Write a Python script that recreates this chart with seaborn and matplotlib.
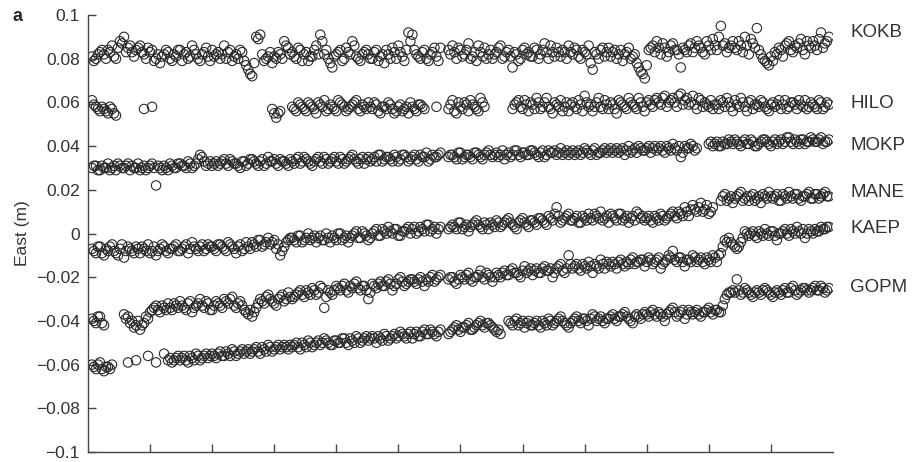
import matplotlib
matplotlib.use("Agg")
import matplotlib.pyplot as plt
import seaborn as sns
import numpy as np
import pandas as pd

# East component for each GPS station, in mm (None = no solution).
# First list: solutions on the main epochs; *_mid: solutions half an epoch later.
kokb = [81, 80, 83, 82, 84, 86, 80, 88, 90, 85,
        83, 84, 86, 82, 85, 84, 80, 78, 82, 83,
        79, 81, 84, 82, 80, 86, 82, 79, 83, 81,
        84, 82, 80, 86, 83, 79, 82, 84, 79, 75,
        72, 90, 91, 79, 81, 78, 80, 82, 88, 85,
        83, 80, 84, 82, 79, 81, 86, 91, 82, 80,
        76, 82, 84, 80, 83, 88, 81, 79, 83, 82,
        80, 84, 81, 78, 82, 85, 80, 83, 79, 92,
        91, 82, 80, 84, 79, 83, 81, 85, None, 84,
        86, 80, 84, 82, 87, 81, 79, 83, 85, 82,
        80, 83, 86, 81, 84, 76, 82, 80, 85, 83,
        81, 84, 82, 87, 80, 83, 85, 81, 83, 86,
        82, 84, 80, 83, 86, 75, 82, 84, 81, 85,
        83, 80, 84, 82, 85, 81, 78, 74, 71, 84,
        86, 88, 82, 85, 83, 87, 84, 76, 84, 86,
        83, 88, 85, 82, 86, 89, 84, 95, 87, 85,
        88, 84, 86, 90, 82, 87, 94, 82, 79, 77,
        79, 82, 84, 86, 88, 83, 85, 89, 82, 86,
        88, 84, 92, 87, 90]
kokb_mid = [79, 82, 84, 80, 83, 81, 85, 87, 83, 86,
            81, 85, 83, 80, 83, 79, 82, 81, 84, 80,
            82, 84, 79, 83, 81, 84, 80, 82, 85, 79,
            81, 83, 82, 80, 84, 81, 80, 83, 77, 73,
            78, 89, 82, 80, 83, 81, 83, 80, 86, 82,
            81, 85, 79, 83, 81, 84, 82, 88, 84, 78,
            81, 83, 79, 85, 82, 86, 80, 82, 84, 80,
            83, 79, 82, 84, 80, 83, 86, 81, 84, 88,
            84, 81, 83, 80, 82, 85, 79, None, None, 82,
            83, 85, 81, 84, 80, 83, 86, 81, 80, 84,
            82, 85, 80, 83, 81, 83, 79, 84, 82, 81,
            85, 80, 84, 83, 86, 81, 83, 84, 80, 83,
            85, 81, 84, 82, 78, 83, 80, 85, 83, 81,
            84, 82, 79, 83, 80, 82, 76, 73, 77, 85,
            83, 85, 87, 81, 86, 84, 82, 85, 83, 87,
            85, 86, 83, 88, 84, 86, 90, 86, 83, 86,
            85, 88, 83, 86, 89, 85, 84, 80, 78, 81,
            83, 85, 81, 87, 84, 86, 87, 84, 88, 85,
            86, 89, 85, 88]

hilo = [61, 58, 56, 57, 55, 57, 54, None, None, None,
        None, None, None, 57, None, 58, None, None, None, None,
        None, None, None, None, None, None, None, None, None, None,
        None, None, None, None, None, None, None, None, None, None,
        None, None, None, None, None, 57, 53, 56, None, None,
        58, 56, 59, 57, 60, 58, 55, 59, 61, 57,
        58, 56, 60, 58, 57, 59, 61, 56, 58, 60,
        57, 59, 55, 58, 60, 57, 56, 59, 57, 55,
        58, 56, 59, 57, None, None, 58, None, None, 57,
        61, 55, 58, 60, 56, 59, 57, 62, 58, None,
        None, None, None, None, None, 57, 60, 58, 61, 56,
        59, 62, 57, 60, 58, 55, 59, 61, 58, 56,
        60, 57, 59, 63, 58, 56, 60, 58, 61, 57,
        59, 55, 60, 58, 62, 59, 57, 60, 56, 61,
        58, 62, 59, 63, 60, 62, 58, 64, 61, 59,
        63, 57, 61, 60, 58, 57, 59, 61, 58, 60,
        56, 59, 62, 58, 60, 57, 59, 61, 58, 56,
        60, 59, 57, 61, 58, 60, 57, 59, 61, 58,
        59, 57, 60, 58, 59]
hilo_mid = [59, 57, 58, 56, 58, 55, None, None, None, None,
            None, None, None, None, None, None, None, None, None, None,
            None, None, None, None, None, None, None, None, None, None,
            None, None, None, None, None, None, None, None, None, None,
            None, None, None, None, None, 55, 55, None, None, None,
            57, 60, 58, 56, 59, 57, 60, 58, 56, 59,
            57, 61, 59, 56, 58, 60, 57, 59, 57, 58,
            60, 56, 58, 57, 59, 55, 58, 56, 58, 60,
            57, 59, 58, None, None, None, None, None, None, 59,
            56, 60, 57, 59, 61, 58, 56, 60, None, None,
            None, None, None, None, None, 59, 61, 57, 59, 60,
            57, 60, 58, 62, 57, 60, 58, 56, 60, 59,
            58, 61, 56, 60, 59, 58, 62, 57, 59, 60,
            57, 61, 59, 57, 60, 58, 62, 58, 60, 59,
            61, 60, 62, 58, 61, 60, 63, 59, 62, 60,
            59, 62, 58, 59, 61, 59, 57, 60, 62, 58,
            61, 58, 60, 56, 61, 59, 58, 60, 57, 59,
            58, 61, 59, 57, 60, 59, 61, 58, 57, 60,
            58, 61, 57, 60]

mokp = [30, 31, 29, 30, 32, 30, 29, 31, 30, 32,
        31, 30, 29, 31, 30, 32, 22, 30, 31, 29,
        31, 30, 32, 31, 33, 30, 32, 36, 33, 32,
        31, 33, 32, 34, 31, 33, 32, 30, 33, 32,
        34, 32, 33, 31, 35, 33, 32, 34, 33, 31,
        33, 34, 32, 35, 33, 31, 34, 33, 35, 32,
        34, 33, 35, 32, 34, 36, 33, 34, 32, 35,
        34, 33, 36, 34, 35, 33, 35, 34, 36, 33,
        35, 34, 36, 35, 33, 36, 35, 37, None, 35,
        36, 34, 37, 35, 36, 34, 37, 35, 36, 38,
        35, 37, 36, 34, 37, 36, 38, 35, 37, 36,
        38, 36, 37, 35, 38, 37, 36, 39, 37, 36,
        38, 37, 36, 39, 37, 38, 36, 37, 39, 38,
        37, 39, 38, 36, 40, 38, 37, 39, 38, 40,
        39, 38, 40, 37, 39, 41, 38, 35, 40, 39,
        40, 39, None, None, 41, 40, 42, 40, 41, 43,
        41, 42, 40, 43, 41, 42, 40, 42, 43, 41,
        42, 41, 43, 42, 44, 41, 42, 43, 41, 42,
        43, 42, 44, 42, 43]
mokp_mid = [31, 29, 31, 30, 29, 31, 32, 30, 31, 29,
            30, 32, 30, 29, 31, 30, 31, 29, 30, 32,
            30, 32, 31, 30, 32, 31, 34, 35, 31, 33,
            32, 31, 33, 32, 34, 32, 31, 33, 31, 34,
            33, 31, 34, 32, 33, 34, 31, 33, 32, 34,
            32, 35, 33, 34, 32, 33, 35, 32, 34, 33,
            35, 32, 34, 33, 35, 34, 32, 35, 34, 33,
            35, 36, 33, 35, 34, 36, 33, 36, 35, 34,
            36, 33, 35, 37, 34, 35, 36, None, None, 36,
            35, 37, 34, 36, 35, 37, 36, 34, 37, 36,
            36, 35, 38, 36, 35, 38, 36, 37, 36, 38,
            37, 35, 38, 36, 37, 38, 37, 36, 38, 37,
            36, 38, 37, 38, 36, 39, 37, 38, 37, 39,
            38, 37, 39, 38, 37, 39, 40, 38, 39, 37,
            40, 39, 38, 40, 38, 39, 40, 37, 39, 41,
            38, None, None, None, 42, 41, 40, 42, 41, 42,
            43, 41, 42, 41, 43, 40, 41, 43, 42, 40,
            43, 42, 41, 44, 42, 43, 41, 43, 42, 44,
            42, 43, 41, 42]

mane = [-7, -9, -6, -10, -8, -5, -9, -7, -11, -6,
        -8, -6, -9, -7, -5, -8, -10, -7, -6, -9,
        -7, -5, -8, -6, -9, -4, -7, -6, -8, -5,
        -6, -8, -5, -7, -4, -6, -9, -5, -7, -6,
        -4, -6, -3, -5, -2, -4, -7, -10, -6, -3,
        -2, -4, -1, -3, 0, -2, -4, -1, -3, -2,
        -1, -3, 0, -2, -4, -1, 1, -2, 0, -3,
        0, 2, -1, 1, 3, 0, 2, -1, 1, 3,
        2, 0, 3, 1, 4, 2, 0, 3, None, 2,
        4, 2, 5, 3, 1, 4, 6, 3, 5, 2,
        4, 6, 3, 5, 7, 4, 2, 6, 5, 3,
        6, 4, 7, 5, 8, 6, 12, 5, 7, 9,
        6, 8, 5, 7, 9, 6, 8, 10, 7, 5,
        8, 6, 9, 7, 5, 8, 10, 7, 6, 8,
        5, 7, 9, 6, 8, 10, 7, 9, 12, 8,
        13, 10, 14, 11, 9, 12, None, 15, 18, 16,
        14, 17, 19, 16, 15, 18, 16, 14, 17, 19,
        16, 18, 15, 17, 19, 16, 18, 15, 17, 19,
        16, 18, 17, 19, 17]
mane_mid = [-8, -6, -9, -7, -6, -8, -10, -5, -8, -7,
            -9, -7, -6, -8, -9, -6, -8, -5, -8, -7,
            -6, -8, -7, -5, -7, -6, -8, -5, -7, -6,
            -7, -5, -6, -8, -5, -7, -6, -8, -4, -7,
            -5, -3, -6, -4, -5, -3, -5, -8, -4, -2,
            -3, -1, -4, -2, -3, -1, -2, -3, 0, -4,
            -2, 0, -3, -1, -2, 0, -2, 1, -1, -2,
            1, -1, 2, 0, 1, 2, -1, 1, 2, 0,
            3, 1, 2, 4, 1, 3, 2, None, None, 3,
            3, 5, 2, 4, 3, 5, 4, 2, 4, 5,
            3, 5, 4, 6, 5, 3, 5, 7, 4, 6,
            5, 7, 6, 4, 7, 9, 8, 6, 8, 6,
            7, 5, 8, 6, 7, 9, 7, 6, 8, 9,
            7, 9, 6, 8, 7, 6, 9, 8, 7, 6,
            8, 6, 8, 7, 9, 8, 10, 8, 10, 11,
            11, 12, 10, 13, 10, None, None, 17, 15, 17,
            16, 18, 15, 17, 17, 15, 17, 18, 16, 17,
            17, 15, 18, 16, 17, 18, 16, 17, 18, 16,
            18, 16, 18, 17]

kaep = [-39, -41, -38, -42, None, None, None, None, -37, -38,
        -40, -42, -44, -41, -39, -35, -33, -36, -34, -32,
        -35, -33, -31, -34, -32, -36, -33, -30, -34, -32,
        -35, -31, -33, -30, -32, -29, -34, -31, -35, -37,
        -38, -34, -30, -32, -28, -31, -33, -29, -31, -27,
        -30, -28, -26, -29, -27, -25, -28, -24, -34, -26,
        -28, -24, -26, -23, -27, -25, -22, -26, -24, -30,
        -23, -25, -22, -24, -21, -26, -23, -20, -24, -22,
        -21, -23, -20, -24, -22, -19, -21, -19, None, -21,
        -20, -23, -19, -21, -18, -22, -20, -17, -21, -19,
        -22, -18, -20, -17, -19, -16, -18, -20, -15, -17,
        -19, -16, -18, -15, -17, -20, -16, -14, -18, -10,
        -16, -14, -17, -15, -13, -18, -15, -12, -16, -14,
        -13, -16, -12, -15, -14, -11, -13, -12, -15, -11,
        -14, -12, -16, -13, -10, -8, -13, -11, -15, -12,
        -10, -13, -11, -14, -12, -10, -13, -9, -3, -2,
        -5, -7, -4, 1, -1, 1, -2, 0, 2, -1,
        1, -3, 0, 2, -1, 1, 3, 0, -2, 2,
        0, 1, 3, 2, 3]
kaep_mid = [-40, -38, -41, None, None, None, None, None, -39, -41,
            -43, -40, -42, -38, -36, -34, -35, -33, -35, -34,
            -32, -34, -33, -35, -31, -34, -32, -33, -31, -35,
            -33, -32, -34, -31, -30, -33, -32, -33, -36, -35,
            -36, -32, -31, -29, -30, -32, -30, -28, -30, -29,
            -29, -27, -28, -26, -28, -26, -27, -25, -29, -27,
            -26, -25, -24, -26, -24, -23, -25, -24, -26, -27,
            -24, -23, -24, -22, -23, -24, -21, -22, -23, -21,
            -22, -21, -22, -21, -20, -22, -20, None, None, -20,
            -22, -21, -20, -19, -21, -20, -19, -20, -18, -20,
            -20, -19, -18, -19, -17, -18, -19, -17, -18, -16,
            -17, -18, -16, -17, -16, -18, -15, -17, -16, -14,
            -15, -16, -14, -16, -15, -14, -16, -14, -13, -15,
            -14, -13, -14, -13, -12, -14, -13, -12, -13, -12,
            -13, -11, -14, -12, -11, -12, -11, -13, -12, -13,
            -11, -12, -13, -11, -13, -11, -10, -6, -4, -4,
            -6, -6, -2, 0, 0, -1, 1, -1, 0, 1,
            -1, 0, 1, 0, 2, 0, 1, 2, 0, 1,
            2, 1, 2, 3]

gopm = [-60, -62, -59, -63, -61, -60, None, None, None, -59,
        None, -58, None, None, -56, None, -59, None, -55, -58,
        -59, -57, -58, -56, -59, -57, -55, -58, -56, -57,
        -55, -57, -54, -56, -55, -53, -56, -54, -55, -53,
        -54, -52, -55, -53, -51, -54, -52, -53, -51, -53,
        -52, -50, -53, -51, -49, -52, -50, -51, -48, -50,
        -51, -49, -50, -48, -51, -49, -47, -50, -48, -49,
        -47, -50, -48, -46, -49, -47, -48, -45, -47, -46,
        -48, -45, -47, -44, -46, -45, -47, -44, None, -46,
        -44, -42, -45, -43, -41, -44, -42, -40, -43, -41,
        -43, -45, -46, None, -40, -42, -39, -41, -43, -40,
        -42, -40, -43, -41, -39, -42, -40, -38, -41, -43,
        -40, -38, -41, -39, -42, -37, -40, -38, -41, -39,
        -37, -40, -38, -36, -39, -41, -37, -39, -36, -38,
        -35, -38, -37, -40, -36, -34, -38, -36, -39, -35,
        -37, -35, -38, -36, -34, -37, -35, -36, -30, -27,
        -26, -21, -28, -25, -27, -29, -26, -28, -25, -27,
        -29, -26, -28, -25, -27, -24, -28, -26, -25, -27,
        -25, -26, -24, -27, -25]
gopm_mid = [-61, -60, -62, -61, -62, None, None, None, None, None,
            None, None, None, None, None, None, None, None, None, -57,
            -58, -56, -57, -58, -56, -58, -56, -57, -55, -56,
            -56, -55, -56, -54, -56, -54, -55, -53, -54, -55,
            -53, -54, -52, -54, -52, -53, -51, -52, -52, -51,
            -51, -52, -50, -52, -50, -51, -49, -50, -49, -51,
            -49, -50, -48, -50, -48, -50, -48, -49, -47, -48,
            -48, -47, -49, -47, -48, -46, -47, -46, -48, -45,
            -46, -47, -45, -46, -44, -46, -45, None, None, -45,
            -43, -44, -43, -42, -44, -43, -41, -42, -41, -42,
            -44, -44, None, None, -41, -40, -42, -40, -41, -42,
            -41, -42, -40, -42, -40, -41, -39, -40, -42, -41,
            -39, -40, -39, -40, -39, -38, -39, -40, -39, -38,
            -39, -38, -37, -38, -40, -38, -38, -37, -37, -36,
            -37, -36, -38, -37, -35, -36, -37, -35, -37, -36,
            -36, -37, -36, -35, -36, -35, -36, -33, -28, -27,
            -27, -26, -27, -26, -28, -27, -27, -26, -26, -28,
            -27, -27, -26, -27, -25, -26, -27, -25, -26, -26,
            -24, -26, -25, -26]

stations = ['KOKB', 'HILO', 'MOKP', 'MANE', 'KAEP', 'GOPM']
series = [kokb, hilo, mokp, mane, kaep, gopm]
series_mid = [kokb_mid, hilo_mid, mokp_mid, mane_mid, kaep_mid, gopm_mid]

ytick_vals = [-0.1, -0.08, -0.06, -0.04, -0.02, 0, 0.02, 0.04, 0.06, 0.08, 0.1]
ytick_labels = ['\u22120.1', '\u22120.08', '\u22120.06', '\u22120.04', '\u22120.02', '0',
                '0.02', '0.04', '0.06', '0.08', '0.1']

# Building one long dataframe (epoch unit = one x tick)
frames = []
for name, vals, mids in zip(stations, series, series_mid):
    assert len(vals) == 185, (name, len(vals))
    assert len(mids) == 184, (name, len(mids))
    frames.append(pd.DataFrame({'epoch': np.arange(1, 186) / 15.5,
                                'east': np.array(vals, dtype=float) / 1000,
                                'station': name}))
    frames.append(pd.DataFrame({'epoch': (np.arange(1, 185) + 0.5) / 15.5,
                                'east': np.array(mids, dtype=float) / 1000,
                                'station': name}))
df = pd.concat(frames).dropna().sort_values('epoch')

sns.set_style('ticks')
plt.rcParams['font.family'] = ['Liberation Sans', 'DejaVu Sans']

fig = plt.figure(figsize=(9.24, 4.62), dpi=100)
ax = fig.add_axes([0.0952, 0.0216, 0.8063, 0.9459])

for name in stations:
    sns.scatterplot(data=df[df.station == name], x='epoch', y='east', ax=ax,
                    marker='o', s=46, facecolor='none', edgecolor='#2a2a2a',
                    linewidth=0.8, legend=False)

ax.set_xlim(0, 12)
ax.set_ylim(-0.1, 0.1)
ax.set_xticks(range(1, 12))
ax.set_xticklabels([])
ax.set_yticks(ytick_vals)
ax.set_yticklabels(ytick_labels)
ax.tick_params(axis='both', direction='in', length=6, width=1, color='#444444',
               labelsize=12.5, labelcolor='#333333', pad=6)
ax.set_xlabel('')
ax.set_ylabel('East (m)', fontsize=12.5, color='#333333', labelpad=4)
sns.despine(ax=ax)
for side in ['left', 'bottom']:
    ax.spines[side].set_color('#444444')
    ax.spines[side].set_linewidth(1)

# Station names at the right end of each series
label_y = {'KOKB': 0.0918, 'HILO': 0.0593, 'MOKP': 0.0405,
           'MANE': 0.0190, 'KAEP': 0.0025, 'GOPM': -0.0245}
for name in stations:
    ax.text(1.023, label_y[name], name, transform=ax.get_yaxis_transform(),
            fontsize=13.5, color='#333333', va='center', ha='left')

fig.text(0.013, 0.965, 'a', fontsize=13, fontweight='bold', va='center')

fig.savefig('out.png', dpi=100)
